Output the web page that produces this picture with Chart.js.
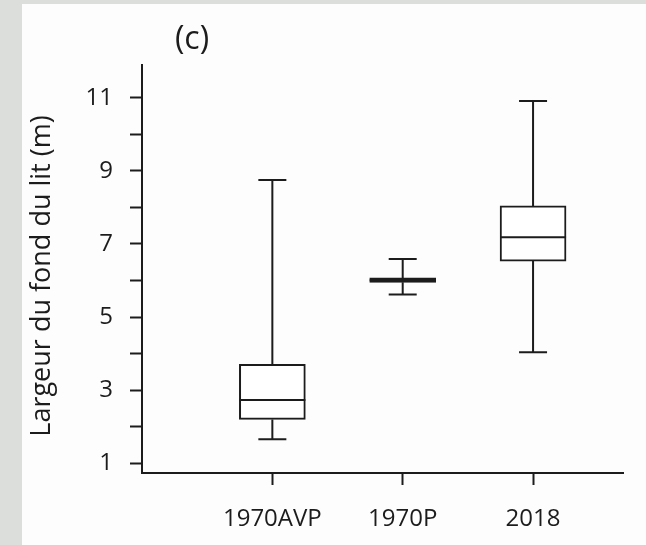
<!DOCTYPE html>
<html>
<head>
<meta charset="utf-8">
<script src="https://cdn.jsdelivr.net/npm/chart.js@4/dist/chart.umd.min.js"></script>
<style>
  html, body { margin: 0; padding: 0; background: #dcdedb; }
  #wrap { position: absolute; left: 22px; top: 4px; width: 624px; height: 541px; background: #fdfdfd; }
</style>
</head>
<body>
<div id="wrap"><canvas id="boxChart" width="624" height="541"></canvas></div>
<script>
// box plot values (metres)
const categories = ['1970AVP', '1970P', '2018'];
const whiskerLow = [1.66, 5.62, 4.04];
const q1 = [2.20, 5.95, 6.53];
const median = [2.73, 6.01, 7.18];
const q3 = [3.71, 6.07, 8.04];
const whiskerHigh = [8.75, 6.59, 10.91];
const yTicks = [1, 2, 3, 4, 5, 6, 7, 8, 9, 10, 11];

const ink = '#1c1c1c';
const FONT = '"Open Sans", "DejaVu Sans", sans-serif';

// whiskers + medians drawn from the scales
const boxExtras = {
  id: 'boxExtras',
  afterDatasetsDraw(chart) {
    const { ctx, scales: { x, y } } = chart;
    ctx.save();
    ctx.strokeStyle = ink;
    ctx.lineWidth = 2;
    categories.forEach((c, i) => {
      const px = x.getPixelForValue(i + 1);
      const capHalf = 14;
      const boxHalf = 33;
      ctx.beginPath();
      // upper whisker
      ctx.moveTo(px, y.getPixelForValue(q3[i]));
      ctx.lineTo(px, y.getPixelForValue(whiskerHigh[i]));
      ctx.moveTo(px - capHalf, y.getPixelForValue(whiskerHigh[i]));
      ctx.lineTo(px + capHalf, y.getPixelForValue(whiskerHigh[i]));
      // lower whisker
      ctx.moveTo(px, y.getPixelForValue(q1[i]));
      ctx.lineTo(px, y.getPixelForValue(whiskerLow[i]));
      ctx.moveTo(px - capHalf, y.getPixelForValue(whiskerLow[i]));
      ctx.lineTo(px + capHalf, y.getPixelForValue(whiskerLow[i]));
      // median
      ctx.moveTo(px - boxHalf, y.getPixelForValue(median[i]));
      ctx.lineTo(px + boxHalf, y.getPixelForValue(median[i]));
      ctx.stroke();
    });
    ctx.restore();
  }
};

// panel letter and y axis label
const texts = {
  id: 'texts',
  afterDraw(chart) {
    const { ctx, chartArea } = chart;
    ctx.save();
    ctx.fillStyle = ink;
    ctx.textAlign = 'center';
    ctx.textBaseline = 'middle';
    ctx.font = '32px ' + FONT;
    ctx.fillText('(c)', 170, 36);
    ctx.translate(20, (chartArea.top + chartArea.bottom) / 2 + 7);
    ctx.rotate(-Math.PI / 2);
    ctx.font = '27px ' + FONT;
    ctx.fillText('Largeur du fond du lit (m)', 0, 0);
    ctx.restore();
  }
};

const ctx = document.getElementById('boxChart').getContext('2d');
new Chart(ctx, {
  type: 'bar',
  data: {
    datasets: [{
      data: categories.map((c, i) => ({ x: i + 1, y: [q1[i], q3[i]] })),
      backgroundColor: ['#ffffff', ink, '#ffffff'],
      borderColor: ink,
      borderWidth: 2,
      borderSkipped: false,
      barThickness: 66
    }]
  },
  options: {
    responsive: false,
    animation: false,
    layout: { padding: { top: 61, right: 23, bottom: 0, left: 0 } },
    plugins: { legend: { display: false }, tooltip: { enabled: false } },
    scales: {
      x: {
        type: 'linear',
        offset: false,
        min: 0,
        max: 3.69,
        afterBuildTicks: (scale) => { scale.ticks = categories.map((c, i) => ({ value: i + 1 })); },
        afterFit: (scale) => { scale.height = 72; },
        ticks: {
          callback: (v) => categories[v - 1] || '',
          color: ink,
          font: { family: FONT, size: 24 },
          padding: 20,
          maxRotation: 0
        },
        grid: { offset: false, drawOnChartArea: false, tickLength: 12, tickWidth: 2, tickColor: ink },
        border: { color: ink, width: 2 }
      },
      y: {
        min: 0.735,
        max: 11.894,
        afterBuildTicks: (scale) => { scale.ticks = yTicks.map(v => ({ value: v })); },
        afterFit: (scale) => { scale.width = 120; },
        ticks: {
          callback: (v) => (v % 2 === 1 ? String(v) : ''),
          color: ink,
          font: { family: FONT, size: 24 },
          padding: 17
        },
        grid: { drawOnChartArea: false, tickLength: 12, tickWidth: 2, tickColor: ink },
        border: { color: ink, width: 2 }
      }
    }
  },
  plugins: [boxExtras, texts]
});
</script>
</body>
</html>
